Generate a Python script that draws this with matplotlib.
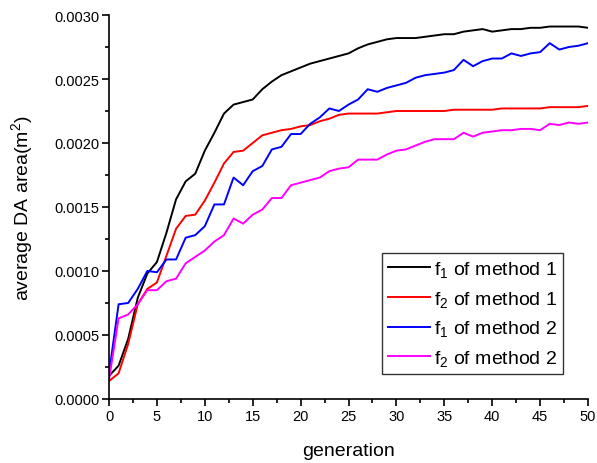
import numpy as np
import matplotlib
matplotlib.use("Agg")
import matplotlib.pyplot as plt
from matplotlib.ticker import MultipleLocator, FormatStrFormatter

plt.rcParams.update({
    "font.family": ["Liberation Sans", "DejaVu Sans"],
    "mathtext.fontset": "custom",
    "mathtext.rm": "Liberation Sans",
    "mathtext.it": "Liberation Sans:italic",
})

# data
generation = np.arange(0, 51)

f1_method1 = [0.00018, 0.00026, 0.00047, 0.00079, 0.00098, 0.00107, 0.00130, 0.00156, 0.00170, 0.00176,
              0.00194, 0.00208, 0.00223, 0.00230, 0.00232, 0.00234, 0.00242, 0.00248, 0.00253, 0.00256,
              0.00259, 0.00262, 0.00264, 0.00266, 0.00268, 0.00270, 0.00274, 0.00277, 0.00279, 0.00281,
              0.00282, 0.00282, 0.00282, 0.00283, 0.00284, 0.00285, 0.00285, 0.00287, 0.00288, 0.00289,
              0.00287, 0.00288, 0.00289, 0.00289, 0.00290, 0.00290, 0.00291, 0.00291, 0.00291, 0.00291,
              0.00290]

f2_method1 = [0.00014, 0.00020, 0.00043, 0.00074, 0.00086, 0.00091, 0.00112, 0.00133, 0.00143, 0.00144,
              0.00155, 0.00169, 0.00184, 0.00193, 0.00194, 0.00200, 0.00206, 0.00208, 0.00210, 0.00211,
              0.00213, 0.00214, 0.00217, 0.00219, 0.00222, 0.00223, 0.00223, 0.00223, 0.00223, 0.00224,
              0.00225, 0.00225, 0.00225, 0.00225, 0.00225, 0.00225, 0.00226, 0.00226, 0.00226, 0.00226,
              0.00226, 0.00227, 0.00227, 0.00227, 0.00227, 0.00227, 0.00228, 0.00228, 0.00228, 0.00228,
              0.00229]

f1_method2 = [0.00020, 0.00074, 0.00075, 0.00086, 0.00100, 0.00099, 0.00109, 0.00109, 0.00126, 0.00128,
              0.00135, 0.00152, 0.00152, 0.00173, 0.00167, 0.00178, 0.00182, 0.00195, 0.00197, 0.00207,
              0.00207, 0.00215, 0.00220, 0.00227, 0.00225, 0.00230, 0.00234, 0.00242, 0.00240, 0.00243,
              0.00245, 0.00247, 0.00251, 0.00253, 0.00254, 0.00255, 0.00257, 0.00265, 0.00260, 0.00264,
              0.00266, 0.00266, 0.00270, 0.00268, 0.00270, 0.00271, 0.00278, 0.00273, 0.00275, 0.00276,
              0.00278]

f2_method2 = [0.00015, 0.00063, 0.00066, 0.00074, 0.00085, 0.00085, 0.00092, 0.00094, 0.00106, 0.00111,
              0.00116, 0.00123, 0.00128, 0.00141, 0.00137, 0.00144, 0.00148, 0.00157, 0.00157, 0.00167,
              0.00169, 0.00171, 0.00173, 0.00178, 0.00180, 0.00181, 0.00187, 0.00187, 0.00187, 0.00191,
              0.00194, 0.00195, 0.00198, 0.00201, 0.00203, 0.00203, 0.00203, 0.00208, 0.00205, 0.00208,
              0.00209, 0.00210, 0.00210, 0.00211, 0.00211, 0.00210, 0.00215, 0.00214, 0.00216, 0.00215,
              0.00216]

labels = [r"f$_1$ of method 1", r"f$_2$ of method 1", r"f$_1$ of method 2", r"f$_2$ of method 2"]
colors = ["black", "red", "blue", "magenta"]

fig = plt.figure(figsize=(5.97, 4.64), dpi=100)
ax = fig.add_axes([0.1826, 0.138, 0.8024, 0.8275])

for y, lab, c in zip([f1_method1, f2_method1, f1_method2, f2_method2], labels, colors):
    ax.plot(generation, y, color=c, lw=1.4, label=lab)

ax.set_xlim(0, 50)
ax.set_ylim(0, 0.003)
ax.xaxis.set_major_locator(MultipleLocator(5))
ax.xaxis.set_minor_locator(MultipleLocator(2.5))
ax.yaxis.set_major_locator(MultipleLocator(0.0005))
ax.yaxis.set_minor_locator(MultipleLocator(0.00025))
ax.yaxis.set_major_formatter(FormatStrFormatter("%.4f"))

for side in ["top", "right"]:
    ax.spines[side].set_visible(False)
for side in ["left", "bottom"]:
    ax.spines[side].set_linewidth(1.2)

ax.tick_params(which="major", direction="out", length=5, width=1.2, labelsize=10.5, pad=2)
ax.tick_params(which="minor", direction="out", length=3, width=1.2)

ax.set_xlabel("generation", fontsize=14, labelpad=14)
ax.set_ylabel("average DA area(m$^2$)", fontsize=14, labelpad=14)

leg = ax.legend(loc="lower right", bbox_to_anchor=(0.948, 0.065), borderaxespad=0,
                fontsize=14, fancybox=False, edgecolor="#333333", framealpha=1,
                handlelength=2.2, handletextpad=0.2, labelspacing=0.5, borderpad=0.3)
leg.get_frame().set_linewidth(1.0)

fig.savefig("out.png", dpi=100)
